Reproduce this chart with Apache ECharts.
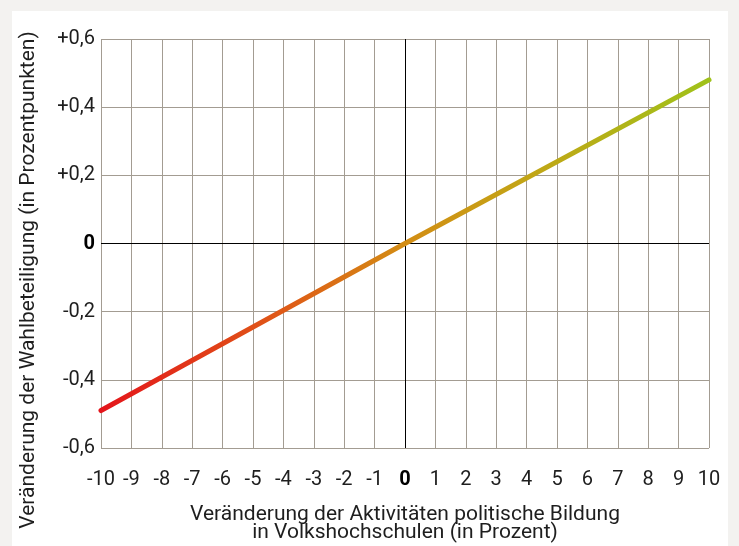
<!DOCTYPE html>
<html><head><meta charset="utf-8">
<script src="https://cdn.jsdelivr.net/npm/echarts@6/dist/echarts.min.js"></script>
<style>html,body{margin:0;padding:0;background:#f3f2f0}#c{width:739px;height:546px}</style>
</head><body><div id="c"></div>
<script>
var xValues = [-10, 0, 10];
var yValues = [-0.49, 0, 0.48];
var xTicks = [-10,-9,-8,-7,-6,-5,-4,-3,-2,-1,0,1,2,3,4,5,6,7,8,9,10];
var yTickLabels = {'-0.6':'-0,6','-0.4':'-0,4','-0.2':'-0,2','0':'0','0.2':'+0,2','0.4':'+0,4','0.6':'+0,6'};
var xTitle = 'Veränderung der Aktivitäten politische Bildung\nin Volkshochschulen (in Prozent)';
var yTitle = 'Veränderung der Wahlbeteiligung (in Prozentpunkten)';

var FONT = 'Roboto';
var grid = '#a39c92';
var chart = echarts.init(document.getElementById('c'));
chart.setOption({
  backgroundColor: '#f3f2f0',
  animation: false,
  graphic: [
    {type:'rect', shape:{x:12, y:11, width:716, height:540}, style:{fill:'#ffffff'}, z:-10},
    {type:'text', x:29, y:280, rotation:Math.PI/2, style:{text:yTitle, font:'21px '+FONT, fill:'#1e1e1e', align:'center', verticalAlign:'middle'}},
    {type:'text', x:405, y:524, style:{text:xTitle, font:'21px '+FONT, fill:'#1e1e1e', align:'center', verticalAlign:'middle', lineHeight:18}}
  ],
  grid: {left:101, right:30, top:39, bottom:98},
  xAxis: {
    type:'value', min:-10, max:10, interval:1,
    axisLine:{show:false}, axisTick:{show:false},
    splitLine:{show:true, lineStyle:{color:grid, width:1}},
    axisLabel:{margin:22, fontFamily:FONT, fontSize:20, color:'#1e1e1e',
      formatter:function(v){ return v===0 ? '{b|0}' : String(v); },
      rich:{b:{fontWeight:'bold', fontFamily:FONT, fontSize:20, color:'#000'}}}
  },
  yAxis: {
    type:'value', min:-0.6, max:0.6, interval:0.2,
    axisLine:{show:false}, axisTick:{show:false},
    splitLine:{show:true, lineStyle:{color:grid, width:1}},
    axisLabel:{margin:6, fontFamily:FONT, fontSize:20, color:'#1e1e1e',
      formatter:function(v){ var k=String(Math.round(v*10)/10); var t=yTickLabels[k]; return k==='0' ? '{b|0}' : t; },
      rich:{b:{fontWeight:'bold', fontFamily:FONT, fontSize:20, color:'#000'}}}
  },
  series: [{
    type:'line', data: xValues.map(function(x,i){return [x, yValues[i]];}),
    symbol:'none', z:5,
    lineStyle:{width:5, cap:'round', color:new echarts.graphic.LinearGradient(0,0,1,0,[
      {offset:0, color:'#e4141b'},
      {offset:0.3, color:'#df5a17'},
      {offset:0.5, color:'#d38d14'},
      {offset:0.7, color:'#c2a516'},
      {offset:1, color:'#9fc21a'}
    ])},
    markLine:{silent:true, symbol:'none', label:{show:false}, z:3,
      lineStyle:{color:'#000', width:1, type:'solid'},
      data:[{xAxis:0},{yAxis:0}]}
  }]
});
</script></body></html>
